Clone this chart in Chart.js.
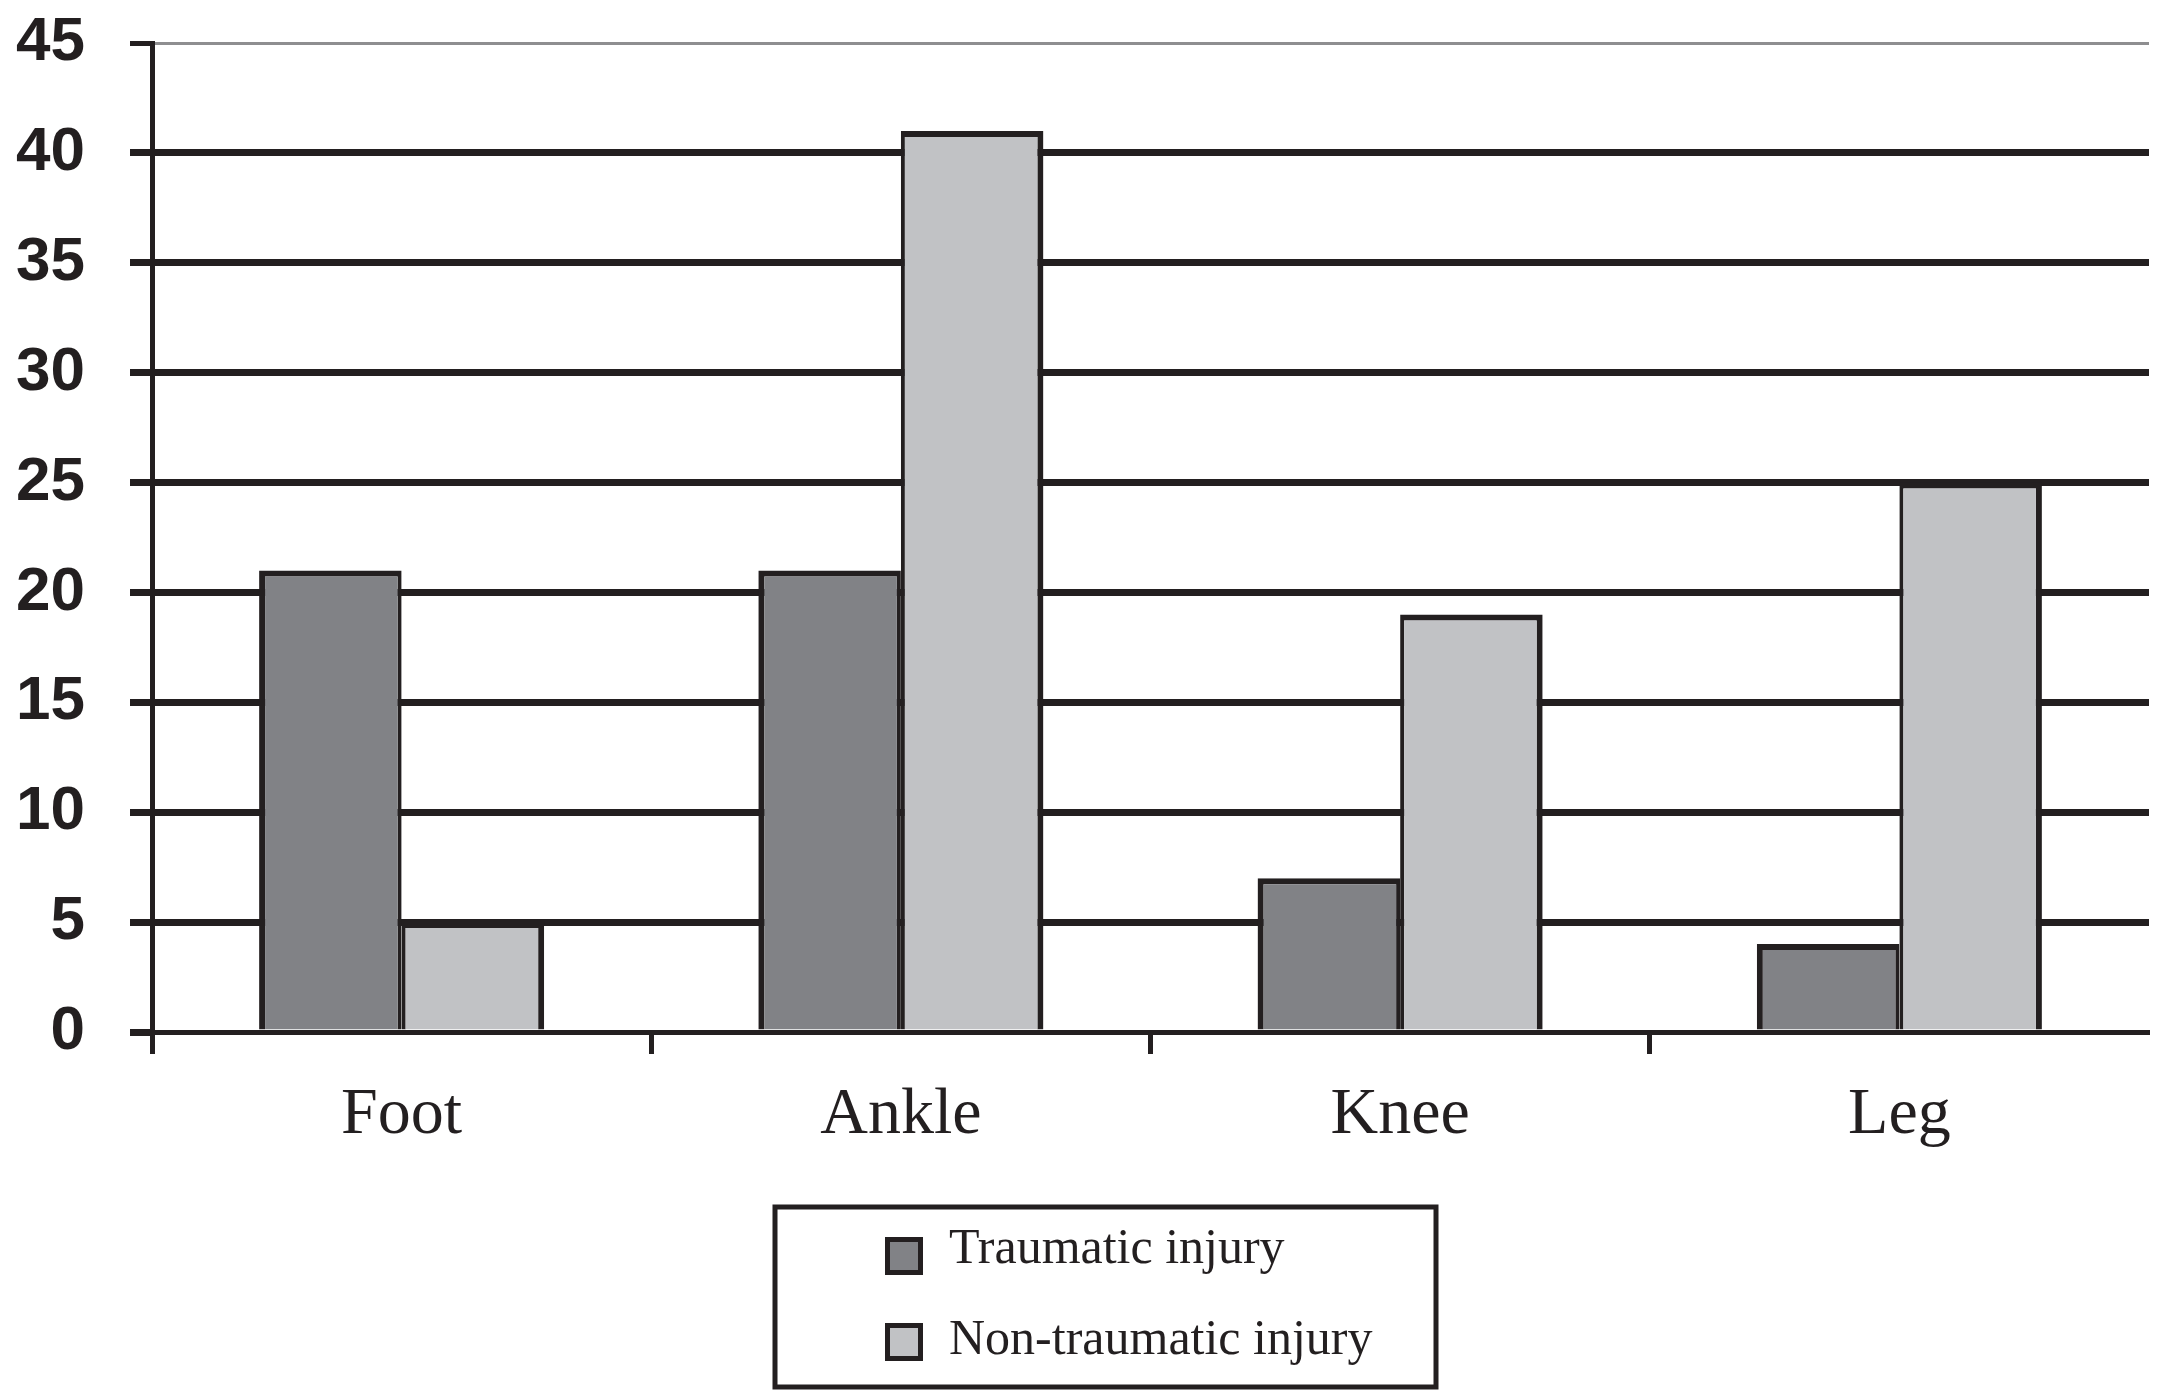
<!DOCTYPE html>
<html>
<head>
<meta charset="utf-8">
<script src="https://cdn.jsdelivr.net/npm/chart.js@4/dist/chart.umd.min.js"></script>
<style>
  html, body { margin: 0; padding: 0; background: #ffffff; }
  #wrap { width: 2181px; height: 1400px; position: relative; }
</style>
</head>
<body>
<div id="wrap"><canvas id="c"></canvas></div>
<script>
// ---- data ----
const categories = ['Foot', 'Ankle', 'Knee', 'Leg'];
const seriesNames = ['Traumatic injury', 'Non-traumatic injury'];
const traumatic = [21, 21, 7, 4];
const nonTraumatic = [5, 41, 19, 25];
const yTicks = [0, 5, 10, 15, 20, 25, 30, 35, 40, 45];

// ---- styles ----
const INK = '#231f20';
const DARK = '#818286';
const LIGHT = '#c1c2c5';

const boxLegend = {
  id: 'boxLegend',
  afterDraw(chart) {
    const ctx = chart.ctx;
    const ca = chart.chartArea;
    const w = 661, h = 180;
    const left = chart.width / 2 + 15 - w / 2;
    const top = ca.bottom + 175;
    ctx.save();
    ctx.lineWidth = 5;
    ctx.strokeStyle = INK;
    ctx.strokeRect(left, top, w, h);
    const rows = [{m: 30, b: 56}, {m: 116, b: 147}];
    ctx.font = '50px "Liberation Serif", "Times New Roman", serif';
    ctx.textBaseline = 'alphabetic';
    ctx.textAlign = 'left';
    chart.data.datasets.forEach((ds, i) => {
      const r = rows[i];
      ctx.fillStyle = ds.backgroundColor;
      ctx.fillRect(left + 110, top + r.m, 38, 38);
      ctx.lineWidth = 5;
      ctx.strokeStyle = INK;
      ctx.strokeRect(left + 112.5, top + r.m + 2.5, 33, 33);
      ctx.fillStyle = INK;
      ctx.fillText(ds.label, left + 174, top + r.b);
    });
    ctx.restore();
  }
};

new Chart(document.getElementById('c'), {
  type: 'bar',
  data: {
    labels: categories,
    datasets: [
      {
        label: seriesNames[0],
        data: traumatic,
        backgroundColor: DARK,
        borderColor: INK,
        borderWidth: {top: 6, left: 6, right: 4, bottom: 0},
        categoryPercentage: 0.571,
        barPercentage: 1.0
      },
      {
        label: seriesNames[1],
        data: nonTraumatic,
        backgroundColor: LIGHT,
        borderColor: INK,
        borderWidth: {top: 6, left: 4, right: 6, bottom: 0},
        categoryPercentage: 0.571,
        barPercentage: 1.0
      }
    ]
  },
  options: {
    responsive: true,
    maintainAspectRatio: false,
    devicePixelRatio: 1,
    animation: false,
    layout: { padding: { top: 43, right: 32, bottom: 238, left: 0 } },
    plugins: {
      legend: { display: false },
      tooltip: { enabled: false }
    },
    scales: {
      x: {
        offset: true,
        grid: {
          display: true,
          offset: true,
          drawOnChartArea: false,
          drawTicks: true,
          tickLength: 22,
          tickWidth: 5,
          color: INK,
          tickColor: (c) => c.type === 'tick' ? INK : 'rgba(0,0,0,0)'
        },
        border: { display: true, color: INK, width: 5 },
        ticks: {
          color: INK,
          padding: 22,
          maxRotation: 0,
          autoSkip: false,
          font: { family: '"Liberation Serif", "Times New Roman", serif', size: 66 }
        },
        afterFit(scale) {
          scale.height = 130;
          scale.paddingLeft = 0; scale.paddingRight = 0;
          scale.paddingTop = 0; scale.paddingBottom = 0;
        }
      },
      y: {
        min: 0,
        max: 45,
        afterBuildTicks(scale) {
          scale.ticks = yTicks.map(v => ({ value: v }));
        },
        grid: {
          drawTicks: true,
          tickLength: 22,
          color: (c) => (c.tick && c.tick.value === 45) ? '#8e8e90' : INK,
          lineWidth: (c) => (c.tick && c.tick.value === 45) ? 3 : ((c.tick && c.tick.value === 0) ? 5 : 7),
          tickColor: INK,
          tickWidth: (c) => (c.tick && c.tick.value === 45) ? 5 : 7
        },
        border: { display: true, color: INK, width: 5 },
        ticks: {
          color: INK,
          padding: 45,
          font: { family: '"Liberation Sans", Arial, sans-serif', size: 62, weight: 'bold' }
        },
        afterFit(scale) {
          scale.width = 152;
          scale.paddingTop = 0; scale.paddingBottom = 0;
          scale.paddingLeft = 0; scale.paddingRight = 0;
        }
      }
    }
  },
  plugins: [boxLegend]
});
</script>
</body>
</html>
